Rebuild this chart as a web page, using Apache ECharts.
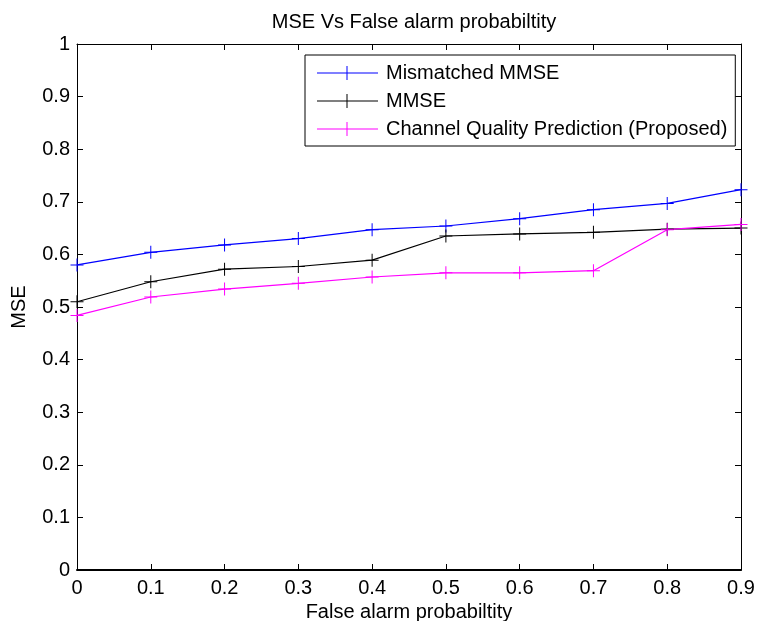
<!DOCTYPE html>
<html>
<head>
<meta charset="utf-8">
<title>MSE Vs False alarm probabiltity</title>
<script src="https://cdn.jsdelivr.net/npm/echarts@6/dist/echarts.min.js"></script>
<style>
    html, body { margin: 0; padding: 0; background: #fff; }
    #chart { width: 758px; height: 621px; }
</style>
</head>
<body>
<div id="chart"></div>
<script>
// values
const falseAlarm = [0, 0.1, 0.2, 0.3, 0.4, 0.5, 0.6, 0.7, 0.8, 0.9];
const mismatchedMmse = [0.58, 0.604, 0.618, 0.630, 0.647, 0.654, 0.668, 0.685, 0.697, 0.723];
const mmse = [0.510, 0.548, 0.572, 0.577, 0.589, 0.635, 0.639, 0.642, 0.648, 0.650];
const cqp = [0.484, 0.519, 0.534, 0.545, 0.557, 0.565, 0.565, 0.569, 0.647, 0.657];
const seriesNames = ["Mismatched MMSE", "MMSE", "Channel Quality Prediction (Proposed)"];

const fontFamily = "Liberation Sans, Arial, Helvetica, sans-serif";
const plus = "path://M0,6h13v1h-13z M6,0h1v13h-1z";
const legendPlus = "path://M0,6.5h61v1h-61z M29.5,0h1v14h-1z";

function pairs(ys) {
    return falseAlarm.map(function (x, i) {
        return [x, ys[i]];
    });
}

function makeLine(name, ys, color) {
    return {
        name: name,
        type: "line",
        data: pairs(ys),
        symbol: plus,
        symbolSize: 13,
        showSymbol: true,
        lineStyle: { color: color, width: 1.2 },
        itemStyle: { color: color },
        emphasis: { disabled: true },
        animation: false,
    };
}

let chart = echarts.init(document.getElementById("chart"));

const tickStyle = { show: true, inside: true, length: 6, lineStyle: { color: "#000", width: 1 } };

chart.setOption({
    backgroundColor: "#fff",
    title: {
        text: "MSE Vs False alarm probabiltity",
        left: 409,
        textAlign: "center",
        top: 7,
        textStyle: { fontFamily: fontFamily, fontSize: 20, fontWeight: "normal", color: "#000" },
    },
    grid: { left: 77, right: 17, top: 44, bottom: 51, outerBoundsMode: "none", containLabel: false },
    legend: {
        orient: "vertical",
        left: 305,
        top: 55,
        padding: [8, 8, 7, 12],
        itemWidth: 61,
        itemHeight: 14,
        itemGap: 8,
        backgroundColor: "#fff",
        borderColor: "#000",
        borderWidth: 1,
        borderRadius: 0,
        selectedMode: false,
        textStyle: {
            fontFamily: fontFamily,
            fontSize: 20,
            lineHeight: 20,
            color: "#000",
            padding: [0, 0, 0, 3],
        },
        data: seriesNames.map(function (n) {
            return { name: n, icon: legendPlus };
        }),
    },
    xAxis: [
        {
            type: "value",
            min: 0,
            max: 0.9,
            interval: 0.1,
            position: "bottom",
            name: "False alarm probabiltity",
            nameLocation: "middle",
            nameGap: 32,
            nameTextStyle: { fontFamily: fontFamily, fontSize: 20, color: "#000" },
            axisLine: { show: true, onZero: false, lineStyle: { color: "#000", width: 2 } },
            axisTick: tickStyle,
            axisLabel: { fontFamily: fontFamily, fontSize: 20, color: "#000", margin: 8 },
            splitLine: { show: false },
        },
        {
            type: "value",
            min: 0,
            max: 0.9,
            interval: 0.1,
            position: "top",
            axisLine: { show: true, onZero: false, lineStyle: { color: "#000", width: 1 } },
            axisTick: tickStyle,
            axisLabel: { show: false },
            splitLine: { show: false },
        },
    ],
    yAxis: [
        {
            type: "value",
            min: 0,
            max: 1,
            interval: 0.1,
            position: "left",
            name: "MSE",
            nameLocation: "middle",
            nameGap: 48,
            nameTextStyle: { fontFamily: fontFamily, fontSize: 20, color: "#000" },
            axisLine: { show: true, onZero: false, lineStyle: { color: "#000", width: 1 } },
            axisTick: tickStyle,
            axisLabel: { fontFamily: fontFamily, fontSize: 20, color: "#000", margin: 7 },
            splitLine: { show: false },
        },
        {
            type: "value",
            min: 0,
            max: 1,
            interval: 0.1,
            position: "right",
            axisLine: { show: true, onZero: false, lineStyle: { color: "#000", width: 1 } },
            axisTick: tickStyle,
            axisLabel: { show: false },
            splitLine: { show: false },
        },
    ],
    series: [
        makeLine(seriesNames[0], mismatchedMmse, "#0000ff"),
        makeLine(seriesNames[1], mmse, "#000000"),
        makeLine(seriesNames[2], cqp, "#ff00ff"),
    ],
    animation: false,
});
</script>
</body>
</html>
